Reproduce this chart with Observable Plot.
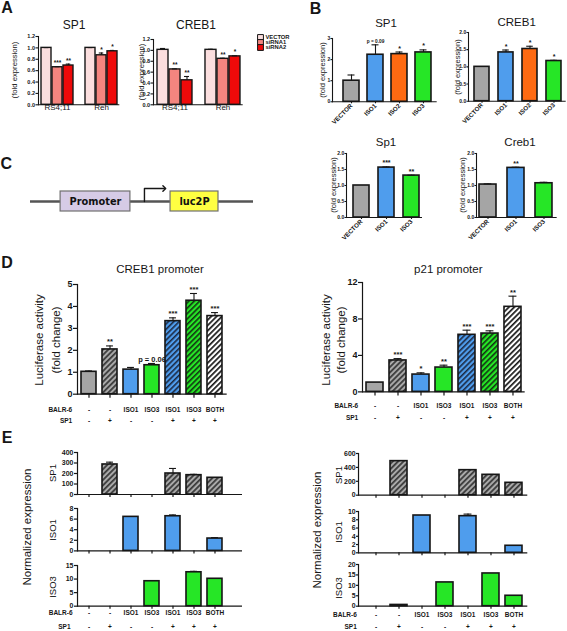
<!DOCTYPE html>
<html><head><meta charset="utf-8">
<script src="https://cdn.jsdelivr.net/npm/d3@7"></script>
<script src="https://cdn.jsdelivr.net/npm/@observablehq/plot@0.6"></script>
<style>
html,body{margin:0;padding:0;background:#fff;}
#fig{position:relative;width:567px;height:631px;overflow:hidden;background:#fff;}
.abs{position:absolute;}
</style></head><body>
<svg width="0" height="0" style="position:absolute;left:0;top:0">
<defs>
<pattern id="hatch-grey" patternUnits="userSpaceOnUse" width="3.8" height="3.8" patternTransform="rotate(45)"><rect width="3.8" height="3.8" fill="#a9a9a9"/><rect width="1.8" height="3.8" fill="#3c3c3c"/></pattern>
<pattern id="hatch-blue" patternUnits="userSpaceOnUse" width="3.8" height="3.8" patternTransform="rotate(45)"><rect width="3.8" height="3.8" fill="#4f9ded"/><rect width="1.6" height="3.8" fill="#1c2a44"/></pattern>
<pattern id="hatch-green" patternUnits="userSpaceOnUse" width="3.8" height="3.8" patternTransform="rotate(45)"><rect width="3.8" height="3.8" fill="#26e626"/><rect width="1.6" height="3.8" fill="#123312"/></pattern>
<pattern id="hatch-white" patternUnits="userSpaceOnUse" width="3.8" height="3.8" patternTransform="rotate(45)"><rect width="3.8" height="3.8" fill="#ffffff"/><rect width="1.7" height="3.8" fill="#1a1a1a"/></pattern>
</defs></svg>
<div id="fig"></div>
<script>
// ---------------- DATA ----------------
// Panel A
const aCells = ["RS4;11", "Reh"];
const aSeries = ["VECTOR", "siRNA1", "siRNA2"];
const aColors = ["#fbdede", "#f4857f", "#ee0a0a"];
const aSP1 = [1.00, 0.66, 0.69, 1.00, 0.87, 0.94];
const aSP1Err = [0.005, 0.01, 0.025, 0.005, 0.04, 0.015];
const aSP1Sig = ["", "***", "**", "", "*", "*"];
const aCREB1 = [1.01, 0.65, 0.45, 1.01, 0.845, 0.89];
const aCREB1Err = [0.025, 0.01, 0.07, 0.01, 0.01, 0.01];
const aCREB1Sig = ["", "**", "**", "", "**", "*"];
const aTicks = [0, 0.2, 0.4, 0.6, 0.8, 1.0, 1.2];

// Panel B
const bIso = ["VECTOR", "ISO1", "ISO2", "ISO3"];
const bIsoColors = ["#a5a5a5", "#4f9ded", "#ff6a12", "#26e626"];
const bSP1 = [1.00, 2.23, 2.26, 2.34];
const bSP1Err = [0.27, 0.47, 0.10, 0.12];
const bSP1Sig = ["", "p = 0.09", "*", "*"];
const bCREB1 = [1.00, 1.42, 1.52, 1.17];
const bCREB1Err = [0.0, 0.07, 0.08, 0.02];
const bCREB1Sig = ["", "*", "*", "*"];
const bIsoB = ["VECTOR", "ISO1", "ISO3"];
const bIsoBColors = ["#a5a5a5", "#4f9ded", "#26e626"];
const bSp1 = [1.00, 1.56, 1.31];
const bSp1Err = [0.0, 0.02, 0.01];
const bSp1Sig = ["", "***", "**"];
const bCreb1 = [1.03, 1.55, 1.07];
const bCreb1Err = [0.02, 0.02, 0.03];
const bCreb1Sig = ["", "**", ""];

// Panel C (construct, arbitrary units along the plasmid)
const cParts = ["Promoter", "luc2P"];
const cStart = [13.5, 62.8];
const cEnd = [44.8, 84.3];
const cColors = ["#d6cbe6", "#ffff42"];
const cTSSx = [51.1, 51.1, 60];
const cTSSy = [0, 1.3, 1.3];

// Panels D / E (conditions)
const conds = [0, 1, 2, 3, 4, 5, 6];
const balr6 = ["-", "-", "ISO1", "ISO3", "ISO1", "ISO3", "BOTH"];
const sp1Row = ["-", "+", "-", "-", "+", "+", "+"];
const dCREB1 = [1.02, 2.04, 1.12, 1.32, 3.33, 4.26, 3.56];
const dCREB1Err = [0.04, 0.16, 0.10, 0.08, 0.15, 0.33, 0.16];
const dCREB1Sig = ["", "**", "", "p = 0.06", "***", "***", "***"];
const dP21 = [1.02, 3.45, 1.90, 2.67, 6.26, 6.40, 9.33];
const dP21Err = [0, 0.2, 0.19, 0.26, 0.51, 0.30, 1.17];
const dP21Sig = ["", "***", "*", "**", "***", "***", "**"];

const eL_SP1 = [0, 286, 0, 0, 200, 184, 159];
const eL_SP1Err = [0, 22, 0, 0, 48, 8, 0];
const eL_ISO1 = [0, 0, 6.42, 0, 6.54, 0, 2.33];
const eL_ISO1Err = [0, 0, 0, 0, 0.25, 0, 0.17];
const eL_ISO3 = [0, 0, 0, 9.2, 0, 12.5, 10.1];
const eL_ISO3Err = [0, 0, 0, 0, 0, 0.35, 0];
const eR_SP1 = [0, 490, 0, 0, 360, 293, 178];
const eR_SP1Err = [0, 0, 0, 0, 0, 5, 0];
const eR_ISO1 = [0, 0, 9.03, 0, 8.87, 0, 1.7];
const eR_ISO1Err = [0, 0, 0, 0, 0.5, 0, 0];
const eR_ISO3 = [0, 0.6, 0, 11.4, 0, 15.7, 5.0];
const eR_ISO3Err = [0, 0, 0, 0, 0, 0, 0];

// ---------------- STYLE ----------------
const FONT = '"Liberation Sans", Arial, Helvetica, sans-serif';
const INK = "#161616";
const GREY = "#a5a5a5", BLUE = "#4f9ded", GREEN = "#26e626";
const HG = "url(#hatch-grey)", HB = "url(#hatch-blue)", HGr = "url(#hatch-green)", HW = "url(#hatch-white)";
const dFills = [GREY, HG, BLUE, GREEN, HB, HGr, HW];

const fig = document.getElementById("fig");

function txt(s, cx, cy, {size = 10, weight = "normal", rotate = 0, family = FONT} = {}) {
  const d = document.createElement("div");
  d.textContent = s;
  Object.assign(d.style, {position: "absolute", left: cx + "px", top: cy + "px",
    transform: `translate(-50%,-50%) rotate(${rotate}deg)`, fontSize: size + "px", fontWeight: weight,
    fontFamily: family, lineHeight: "1", whiteSpace: "nowrap", color: INK});
  fig.appendChild(d);
}
function place(el, left, top) {
  const d = document.createElement("div");
  d.className = "abs";
  d.style.left = left + "px"; d.style.top = top + "px";
  d.appendChild(el);
  fig.appendChild(d);
}
const svgStyle = {background: "transparent", overflow: "visible", fontFamily: FONT, maxWidth: "none", color: INK};

function bars(o) {
  const ml = o.ml ?? 24, mr = o.mr ?? 2, mt = o.mt ?? 6, mb = o.mb ?? 20;
  const left = o.x0 - ml, top = o.yt - mt;
  const width = ml + (o.x1 - o.x0) + mr;
  const height = mt + (o.yb - o.yt) + mb;
  const n = o.cats.length;
  const step = (o.band[1] - o.band[0]) / (n - o.pi);
  const bw = step * (1 - o.pi);
  const rows = o.cats.map((c, i) => ({cat: c, value: o.values[i], err: o.errs ? o.errs[i] : 0,
    sig: o.sigs ? o.sigs[i] : "", fill: o.fills[i]}));
  const shown = rows.filter(d => d.value > 0);
  const withErr = shown.filter(d => d.err > 0);
  const aw = o.axisW ?? 1.2;
  const sigSize = o.sigSize ?? 7;
  const marks = [
    Plot.barY(shown, {x: "cat", y: "value", fill: "fill", stroke: INK, strokeWidth: o.barStroke ?? 1.6}),
    Plot.ruleX(withErr, {x: "cat", y1: "value", y2: d => d.value + d.err, stroke: INK, strokeWidth: 1.1}),
    Plot.tickY(withErr, {x: "cat", y: d => d.value + d.err, stroke: INK, strokeWidth: 1.1,
      insetLeft: bw * 0.27, insetRight: bw * 0.27}),
    Plot.text(shown.filter(d => d.sig), {x: "cat", y: d => d.value + d.err, text: "sig",
      dy: -(o.sigGap ?? 1.5), lineAnchor: "bottom",
      fontSize: d => d.sig.startsWith("p") ? (o.pSize ?? sigSize) : sigSize, fontWeight: "bold"}),
    Plot.ruleY([0], {stroke: INK, strokeWidth: aw}),
    Plot.frame({anchor: "left", stroke: INK, strokeWidth: aw}),
    Plot.axisY({ticks: o.ticks, tickFormat: o.fmt, tickSize: o.tickLen ?? 3, tickPadding: o.tickPad ?? 1,
      fontSize: o.tickFont, fontWeight: "bold", label: null, strokeWidth: aw})
  ];
  if (o.xTicks) marks.push(Plot.axisX({tickSize: o.xTicks, tickFormat: () => "", label: null, strokeWidth: aw}));
  if (o.xRot) marks.push(Plot.axisX({tickRotate: -45, tickSize: 2, tickPadding: 1, fontSize: o.xRot,
    fontWeight: "bold", label: null, strokeWidth: aw}));
  if (o.groups) marks.push(Plot.text(o.groups.labels, {x: (d, i) => o.groups.keys[i], text: d => d,
    frameAnchor: "bottom", dy: o.groups.y - o.yb, fontSize: o.groups.size}));
  if (o.rows) for (const r of o.rows) {
    marks.push(Plot.text(o.cats, {x: d => d, text: (d, i) => r.values[i], frameAnchor: "bottom",
      dy: r.y - o.yb, fontSize: o.rowFont ?? 6.5, fontWeight: "bold"}));
    marks.push(Plot.text([r.label], {frameAnchor: "bottom-left", dx: r.right - o.x0, dy: r.y - o.yb,
      textAnchor: "end", fontSize: o.rowFont ?? 6.5, fontWeight: "bold"}));
  }
  const chart = Plot.plot({
    width, height, marginLeft: ml, marginRight: mr, marginTop: mt, marginBottom: mb,
    style: svgStyle,
    x: {type: "band", domain: o.cats, range: [o.band[0] - left, o.band[1] - left], paddingInner: o.pi,
      paddingOuter: 0, ...((o.xTicks || o.xRot) ? {} : {axis: null})},
    y: {domain: o.yDomain, range: [o.yb - top, o.yt - top]},
    color: {type: "identity"},
    marks
  });
  place(chart, left, top);
}

// ---------------- PANEL LETTERS ----------------
txt("A", 7, 8, {size: 16, weight: "bold"});
txt("B", 315.5, 8.7, {size: 16, weight: "bold"});
txt("C", 6.3, 163.8, {size: 16, weight: "bold"});
txt("D", 7, 262.5, {size: 16, weight: "bold"});
txt("E", 7, 437.5, {size: 16, weight: "bold"});

// ---------------- PANEL A ----------------
const aKeys = [...aSeries.map(s => aCells[0] + "|" + s), "gap", ...aSeries.map(s => aCells[1] + "|" + s)];
const withGap = arr => [...arr.slice(0, 3), 0, ...arr.slice(3)];
const aFills = withGap([...aColors, ...aColors]);
bars({x0: 37.7, x1: 119, yb: 104.3, yt: 36, ml: 22, mt: 6, mb: 14, cats: aKeys, band: [40, 118.3], pi: 0.1,
  values: withGap(aSP1), errs: withGap(aSP1Err), sigs: withGap(aSP1Sig), fills: aFills, yDomain: [0, 1.2],
  ticks: aTicks, fmt: d3.format(".1f"), tickFont: 5.5, tickLen: 2.5, sigSize: 6.5, barStroke: 1.4,
  groups: {keys: [aKeys[1], aKeys[5]], labels: aCells, y: 110, size: 8}, axisW: 1.1});
bars({x0: 153.3, x1: 243, yb: 104.3, yt: 39, ml: 22, mt: 6, mb: 14, cats: aKeys, band: [156, 241.7], pi: 0.1,
  values: withGap(aCREB1), errs: withGap(aCREB1Err), sigs: withGap(aCREB1Sig), fills: aFills, yDomain: [0, 1.2],
  ticks: aTicks, fmt: d3.format(".1f"), tickFont: 5.5, tickLen: 2.5, sigSize: 6.5, barStroke: 1.4,
  groups: {keys: [aKeys[1], aKeys[5]], labels: aCells, y: 110, size: 8}, axisW: 1.1});
txt("SP1", 74, 25, {size: 12});
txt("CREB1", 196, 25, {size: 12});
txt("(fold expression)", 15, 70, {size: 7.7, rotate: -90});
txt("(fold expression)", 141.7, 72, {size: 7.7, rotate: -90});
// legend
place(Plot.plot({
  width: 50, height: 30, margin: 0, style: svgStyle,
  x: {type: "point", domain: ["k"], range: [10, 10], axis: null},
  y: {type: "point", domain: aSeries, range: [6, 22], axis: null},
  marks: [
    Plot.dot(aSeries, {x: () => "k", y: d => d, symbol: "square", r: 3.3, fill: (d, i) => aColors[i], stroke: INK, strokeWidth: 1}),
    Plot.text(aSeries, {x: () => "k", y: d => d, text: d => d, dx: 5, textAnchor: "start", fontSize: 5.8, fontWeight: "bold"})
  ]
}), 250, 28);

// ---------------- PANEL B ----------------
const bCommon = {ml: 14, mt: 6, mb: 26, tickFont: 5, tickLen: 1.5, tickPad: 0.8, sigSize: 7, pSize: 4.8, xRot: 6.3, axisW: 1.1};
bars({...bCommon, x0: 332.3, x1: 437, yb: 101, yt: 37.7, cats: bIso, band: [342, 433.3], pi: 0.33,
  values: bSP1, errs: bSP1Err, sigs: bSP1Sig, fills: bIsoColors, yDomain: [0, 3], ticks: [0, 1, 2, 3],
  fmt: d3.format("d")});
bars({...bCommon, x0: 468.3, x1: 566, yb: 101, yt: 32.3, cats: bIso, band: [473.3, 563.3], pi: 0.37,
  values: bCREB1, errs: bCREB1Err, sigs: bCREB1Sig, fills: bIsoColors, yDomain: [0, 2], ticks: [0, 0.5, 1, 1.5, 2],
  fmt: d3.format(".1f")});
bars({...bCommon, x0: 345.7, x1: 421.7, yb: 216.7, yt: 152.7, cats: bIsoB, band: [352.7, 419.3], pi: 0.35,
  values: bSp1, errs: bSp1Err, sigs: bSp1Sig, fills: bIsoBColors, yDomain: [0, 2], ticks: [0, 0.5, 1, 1.5, 2],
  fmt: d3.format(".1f")});
bars({...bCommon, x0: 476, x1: 556.7, yb: 216.7, yt: 152.7, cats: bIsoB, band: [478, 553.3], pi: 0.4,
  values: bCreb1, errs: bCreb1Err, sigs: bCreb1Sig, fills: bIsoBColors, yDomain: [0, 2], ticks: [0, 0.5, 1, 1.5, 2],
  fmt: d3.format(".1f")});
txt("SP1", 386, 24, {size: 11.5});
txt("CREB1", 516.7, 23, {size: 11.5});
txt("Sp1", 386, 143, {size: 11.5});
txt("Creb1", 520, 143, {size: 11.5});
txt("(fold expression)", 322.5, 70, {size: 7.5, rotate: -90});
txt("(fold expression)", 457.5, 67, {size: 7.5, rotate: -90});
txt("(fold expression)", 333.5, 185, {size: 7.5, rotate: -90});
txt("(fold expression)", 463, 185, {size: 7.5, rotate: -90});

// ---------------- PANEL C ----------------
place(Plot.plot({
  width: 280, height: 60, margin: 0, style: svgStyle,
  x: {domain: [0, 100], range: [30, 253], axis: null},
  y: {domain: [-1, 1], range: [41, 21], axis: null},
  marks: [
    Plot.ruleY([0], {x1: 0, x2: 100, stroke: "#555", strokeWidth: 2.5}),
    Plot.rect(cParts, {x1: (d, i) => cStart[i], x2: (d, i) => cEnd[i], y1: -1, y2: 1,
      fill: (d, i) => cColors[i], stroke: "#707070", strokeWidth: 1.2}),
    Plot.text(cParts, {x: (d, i) => (cStart[i] + cEnd[i]) / 2, y: 0, text: d => d,
      fontFamily: '"DejaVu Sans", Verdana, sans-serif', fontWeight: "bold", fontSize: 9.8, fill: "#111"}),
    Plot.line(cTSSx.map((x, i) => [x, cTSSy[i]]), {x: d => d[0], y: d => d[1], stroke: INK, strokeWidth: 1.4,
      markerEnd: "arrow"})
  ]
}), 0, 170);

// ---------------- PANEL D ----------------
bars({x0: 77.3, x1: 227, yb: 394, yt: 284.3, ml: 20, mt: 8, mb: 34, cats: conds, band: [80, 223], pi: 0.3,
  values: dCREB1, errs: dCREB1Err, sigs: dCREB1Sig, fills: dFills, yDomain: [0, 5], ticks: [0, 1, 2, 3, 4, 5],
  fmt: d3.format("d"), tickFont: 9, tickLen: 4, sigSize: 7.5, xTicks: 4,
  rows: [{label: "BALR-6", values: balr6, y: 411.7, right: 72}, {label: "SP1", values: sp1Row, y: 423, right: 72}]});
bars({x0: 362.3, x1: 525, yb: 391.7, yt: 282.3, ml: 20, mt: 8, mb: 34, cats: conds, band: [365, 522], pi: 0.28,
  values: dP21, errs: dP21Err, sigs: dP21Sig, fills: dFills, yDomain: [0, 12], ticks: [0, 4, 8, 12],
  fmt: d3.format("d"), tickFont: 9, tickLen: 4, sigSize: 7.5, xTicks: 4,
  rows: [{label: "BALR-6", values: balr6, y: 408.3, right: 358}, {label: "SP1", values: sp1Row, y: 420, right: 358}]});
txt("CREB1 promoter", 160, 270, {size: 11.5});
txt("p21 promoter", 448.3, 270, {size: 11.5});
txt("Luciferase activity", 40, 340, {size: 11.5, rotate: -90});
txt("(fold change)", 56.7, 340, {size: 11.5, rotate: -90});
txt("Luciferase activity", 326.7, 340, {size: 11.5, rotate: -90});
txt("(fold change)", 341.7, 340, {size: 11.5, rotate: -90});

// ---------------- PANEL E ----------------
const eCommonL = {x0: 77, x1: 242, ml: 22, mt: 6, cats: conds, band: [80, 223], pi: 0.3, tickFont: 7, tickLen: 3, xTicks: 3};
const eCommonR = {x0: 357.7, x1: 527, ml: 22, mt: 6, cats: conds, band: [365, 522], pi: 0.28, tickFont: 7, tickLen: 2, tickPad: 0.8, xTicks: 3};
bars({...eCommonL, yb: 494.3, yt: 452.3, mb: 6, values: eL_SP1, errs: eL_SP1Err, fills: conds.map(() => HG),
  yDomain: [0, 400], ticks: [0, 100, 200, 300, 400], fmt: d3.format("d")});
bars({...eCommonL, yb: 550.7, yt: 508.3, mb: 6, values: eL_ISO1, errs: eL_ISO1Err, fills: conds.map(() => BLUE),
  yDomain: [0, 8], ticks: [0, 2, 4, 6, 8], fmt: d3.format("d")});
bars({...eCommonL, yb: 605.7, yt: 565, mb: 26, values: eL_ISO3, errs: eL_ISO3Err, fills: conds.map(() => GREEN),
  yDomain: [0, 15], ticks: [0, 5, 10, 15], fmt: d3.format("d"),
  rows: [{label: "BALR-6", values: balr6, y: 614.2, right: 72}, {label: "SP1", values: sp1Row, y: 628.3, right: 70}]});
bars({...eCommonR, yb: 495, yt: 453.3, mb: 6, values: eR_SP1, errs: eR_SP1Err, fills: conds.map(() => HG),
  yDomain: [0, 600], ticks: [0, 200, 400, 600], fmt: d3.format("d")});
bars({...eCommonR, yb: 552.3, yt: 511, mb: 6, values: eR_ISO1, errs: eR_ISO1Err, fills: conds.map(() => BLUE),
  yDomain: [0, 10], ticks: [0, 2, 4, 6, 8, 10], fmt: d3.format("d")});
bars({...eCommonR, yb: 606, yt: 564.3, mb: 26, values: eR_ISO3, errs: eR_ISO3Err, fills: conds.map(() => GREEN),
  yDomain: [0, 20], ticks: [0, 5, 10, 15, 20], fmt: d3.format("d"),
  rows: [{label: "BALR-6", values: balr6, y: 616.5, right: 356}, {label: "SP1", values: sp1Row, y: 629, right: 356}]});
txt("Normalized expression", 28.3, 526.7, {size: 11.5, rotate: -90});
txt("Normalized expression", 318.3, 530, {size: 11.5, rotate: -90});
txt("SP1", 52.7, 473, {size: 9.5, rotate: -90});
txt("ISO1", 52.7, 530, {size: 9.5, rotate: -90});
txt("ISO3", 52.7, 586.7, {size: 9.5, rotate: -90});
txt("SP1", 338.5, 475, {size: 9.5, rotate: -90});
txt("ISO1", 338.5, 531.7, {size: 9.5, rotate: -90});
txt("ISO3", 338.5, 588, {size: 9.5, rotate: -90});
</script>
</body></html>
